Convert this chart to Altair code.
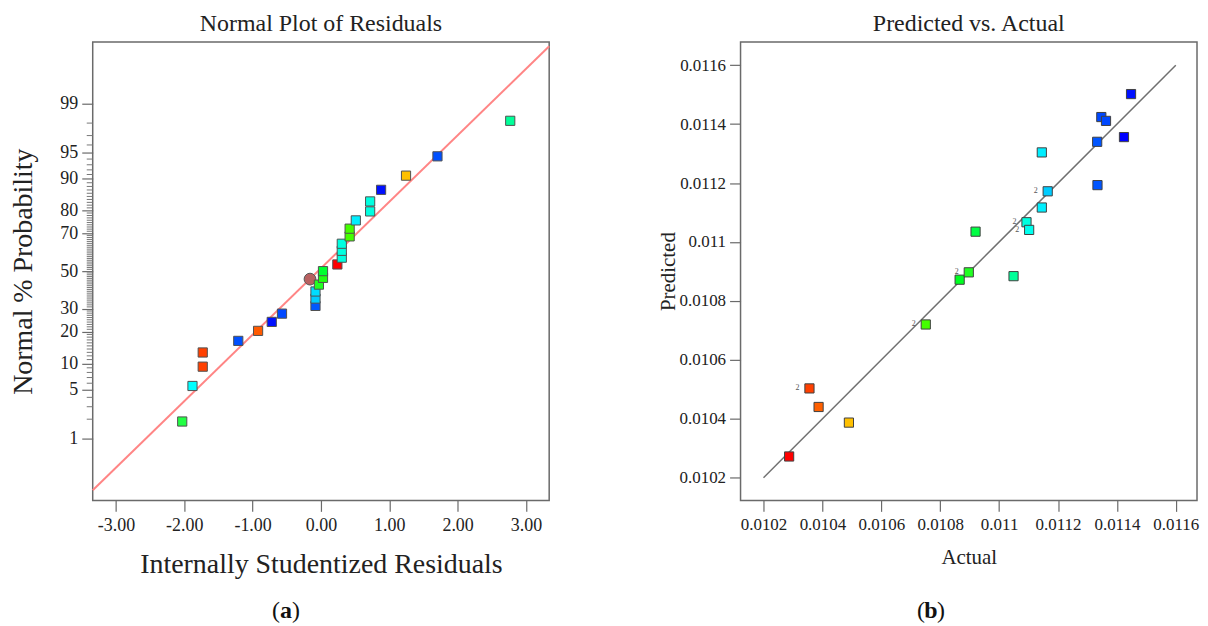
import altair as alt
import pandas as pd
from statistics import NormalDist

nd = NormalDist()

# ---------------- (a) Normal plot of residuals ----------------
resid = [-2.03, -1.88, -1.73, -1.73, -1.21, -0.92, -0.72, -0.57, -0.08, -0.08,
         -0.08, -0.03, 0.03, 0.03, 0.24, 0.305, 0.305, 0.305, 0.42, 0.42,
         0.51, 0.72, 0.72, 0.88, 1.245, 1.705, 2.77]
prob = [1.85, 5.56, 9.26, 12.96, 16.67, 20.37, 24.07, 27.78, 31.48, 35.19,
        38.89, 42.59, 46.30, 50.00, 53.70, 57.41, 61.11, 64.81, 68.52, 72.22,
        75.93, 79.63, 83.33, 87.04, 90.74, 94.44, 98.15]
col_a = ["#22ff44", "#00ffff", "#ff4000", "#ff4000", "#0050ff", "#ff5a00",
         "#0010ff", "#0048ff", "#0058ff", "#00ccff", "#00dcff", "#22ff22",
         "#22ff10", "#00ff30", "#ff0000", "#00ffe0", "#00ffe0", "#00ffe0",
         "#44ff00", "#44ff00", "#00eeff", "#00ffe0", "#00ffe0", "#0010ff",
         "#ffc000", "#0050ff", "#00ff99"]
circle_resid = [-0.16]
circle_prob = [45.6]
fit_resid = [-3.34, 3.34]
fit_z = [-3.04, 3.12]
major_probs = [1, 5, 10, 20, 30, 50, 70, 80, 90, 95, 99]
major_labels = ["1", "5", "10", "20", "30", "50", "70", "80", "90", "95", "99"]
minor_probs = [p for p in range(2, 99) if p not in major_probs]
x_ticks_a = [-3, -2, -1, 0, 1, 2, 3]

# ---------------- (b) Predicted vs. Actual ----------------
actual = [0.010287, 0.010356, 0.010387, 0.010490, 0.010751, 0.010866, 0.010897,
          0.010920, 0.011049, 0.011093, 0.011102, 0.011145, 0.011165, 0.011145,
          0.011334, 0.011333, 0.011347, 0.011363, 0.011424, 0.011448]
predicted = [0.010272, 0.010503, 0.010440, 0.010387, 0.010720, 0.010872, 0.010897,
             0.011035, 0.010884, 0.011067, 0.011041, 0.011117, 0.011172, 0.011304,
             0.011193, 0.011340, 0.011424, 0.011411, 0.011356, 0.011502]
dup = ["", "2", "", "", "2", "", "2", "", "", "2", "2", "", "2", "", "", "", "", "", "", ""]
col_b = ["#ff0000", "#ff4000", "#ff6000", "#ffc000", "#44ff00", "#00ff22",
         "#22ff22", "#00ff44", "#00ff99", "#00ffe0", "#00ffee", "#00f0ff",
         "#00ccff", "#00eeff", "#0055ff", "#0055ff", "#0048ff", "#0048ff",
         "#0000ff", "#0010ff"]
fit_b = [0.0102, 0.0116]
ticks_b = [0.0102, 0.0104, 0.0106, 0.0108, 0.011, 0.0112, 0.0114, 0.0116]

FONT = "Liberation Serif"
W = 458
H = 460

# ---- build panel (a)
df_a = pd.DataFrame({"r": resid, "z": [nd.inv_cdf(p / 100) for p in prob], "c": col_a})
df_c = pd.DataFrame({"r": circle_resid, "z": [nd.inv_cdf(p / 100) for p in circle_prob]})
df_fit = pd.DataFrame({"r": fit_resid, "z": fit_z})
df_minor = pd.DataFrame({"z": [nd.inv_cdf(p / 100) for p in minor_probs]})
major_z = [nd.inv_cdf(p / 100) for p in major_probs]

lab_expr = ""
for zv, lb in zip(major_z, major_labels):
    lab_expr += f"abs(datum.value - ({zv:.6f})) < 0.0001 ? '{lb}' : "
lab_expr += "''"

xs_a = alt.Scale(domain=[-3.34, 3.34], nice=False, zero=False)
ys_a = alt.Scale(domain=[-3.18, 3.18], nice=False, zero=False)
x_a = alt.X("r:Q", scale=xs_a, axis=alt.Axis(
    values=x_ticks_a, title="Internally Studentized Residuals",
    labelExpr="(datum.value < 0 ? '-' : '') + format(abs(datum.value), '.2f')",
    labelFont=FONT, titleFont=FONT,
    labelFontSize=18, titleFontSize=28, titlePadding=16, labelPadding=5))
y_a = alt.Y("z:Q", scale=ys_a, axis=alt.Axis(
    values=major_z, labelExpr=lab_expr, title="Normal % Probability",
    labelFont=FONT, titleFont=FONT,
    labelFontSize=18, titleFontSize=28, titlePadding=22, labelPadding=4))

minor = alt.Chart(df_minor).mark_rule(color="#777777", strokeWidth=1).encode(
    y=alt.Y("z:Q", scale=ys_a), x=alt.value(-6), x2=alt.value(0))
line_a = alt.Chart(df_fit).mark_line(color="#ff8585", strokeWidth=2).encode(x=x_a, y=y_a)
circ = alt.Chart(df_c).mark_point(shape="circle", filled=True, size=140, color="#b86060",
                                  stroke="#555555", strokeWidth=1, opacity=1).encode(
    x=alt.X("r:Q", scale=xs_a), y=alt.Y("z:Q", scale=ys_a))
sq_a = alt.Chart(df_a).mark_square(size=85, opacity=1, stroke="#505050", strokeWidth=1).encode(
    x=alt.X("r:Q", scale=xs_a), y=alt.Y("z:Q", scale=ys_a),
    fill=alt.Fill("c:N", scale=None))

one = pd.DataFrame({"k": [0]})


def caption(letter, cx, cy):
    p1 = alt.Chart(one).mark_text(text="(", font=FONT, fontSize=24, align="right",
                                  baseline="middle", color="#111").encode(
        x=alt.value(cx - 6), y=alt.value(cy))
    p2 = alt.Chart(one).mark_text(text=letter, font=FONT, fontSize=24, fontWeight="bold",
                                  align="center", baseline="middle", color="#111").encode(
        x=alt.value(cx), y=alt.value(cy))
    p3 = alt.Chart(one).mark_text(text=")", font=FONT, fontSize=24, align="left",
                                  baseline="middle", color="#111").encode(
        x=alt.value(cx + 6), y=alt.value(cy))
    return [p1, p2, p3]


panel_a = alt.layer(minor, line_a, circ, sq_a, *caption("a", 194, 571)).properties(
    width=W, height=H,
    title=alt.Title("Normal Plot of Residuals", font=FONT, fontSize=24, fontWeight="normal",
                    color="#222222", offset=6))

# ---- build panel (b)
df_b = pd.DataFrame({"a": actual, "p": predicted, "c": col_b, "d": dup})
df_fb = pd.DataFrame({"a": fit_b, "p": fit_b})
xs_b = alt.Scale(domain=[0.010122, 0.011672], nice=False, zero=False)
ys_b = alt.Scale(domain=[0.010123, 0.011679], nice=False, zero=False)
x_b = alt.X("a:Q", scale=xs_b, axis=alt.Axis(
    values=ticks_b, format=".4~f", title="Actual", labelFont=FONT, titleFont=FONT,
    labelFontSize=17, titleFontSize=21, titlePadding=14, labelPadding=5))
y_b = alt.Y("p:Q", scale=ys_b, axis=alt.Axis(
    values=ticks_b, format=".4~f", title="Predicted", labelFont=FONT, titleFont=FONT,
    labelFontSize=17, titleFontSize=21, titlePadding=1, labelPadding=4))

line_b = alt.Chart(df_fb).mark_line(color="#707070", strokeWidth=1.5).encode(x=x_b, y=y_b)
sq_b = alt.Chart(df_b).mark_square(size=85, opacity=1, stroke="#404040", strokeWidth=1).encode(
    x=alt.X("a:Q", scale=xs_b), y=alt.Y("p:Q", scale=ys_b),
    fill=alt.Fill("c:N", scale=None))
lab_b = alt.Chart(df_b).mark_text(font=FONT, fontSize=8, color="#555555", dx=-12).encode(
    x=alt.X("a:Q", scale=xs_b), y=alt.Y("p:Q", scale=ys_b), text="d:N")

panel_b = alt.layer(line_b, sq_b, lab_b, *caption("b", 191, 571)).properties(
    width=W, height=H,
    title=alt.Title("Predicted vs. Actual", font=FONT, fontSize=24, fontWeight="normal",
                    color="#222222", offset=6))

chart = alt.hconcat(panel_a, panel_b, spacing=192, bounds="flush").properties(
    padding={"left": 1, "top": 2, "right": 0, "bottom": 0}
).configure_view(
    stroke="#6a6a6a", strokeWidth=1.5
).configure_axis(
    grid=False, domain=False, tickSize=11, tickColor="#6a6a6a", tickWidth=1.2,
    labelFont=FONT, titleFont=FONT, labelColor="#222222", titleColor="#222222",
    titleFontWeight="normal"
).configure_title(anchor="middle")

chart.save("out.html", embed_options={"renderer": "svg", "actions": False})
